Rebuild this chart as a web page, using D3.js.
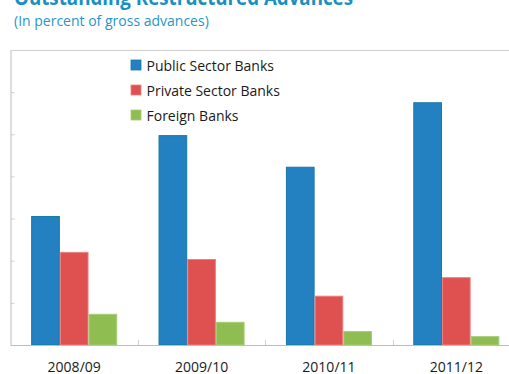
<!DOCTYPE html>
<html>
<head>
<meta charset="utf-8">
<script src="https://cdn.jsdelivr.net/npm/d3@7"></script>
<style>
  html, body { margin: 0; padding: 0; background: #fff; }
  svg { display: block; font-family: "Open Sans", "Noto Sans", sans-serif; }
</style>
</head>
<body>
<svg id="chart" width="509" height="374"></svg>
<script>
// Fiscal years on the category axis
const years = ["2008/09", "2009/10", "2010/11", "2011/12"];
// Bank groups (series)
const groups = ["Public Sector Banks", "Private Sector Banks", "Foreign Banks"];
// Restructured advances, percent of gross advances
const publicSector  = [3.06, 4.98, 4.23, 5.76];
const privateSector = [2.21, 2.04, 1.17, 1.61];
const foreignBanks  = [0.74, 0.55, 0.33, 0.21];
const yTicks = [0, 1, 2, 3, 4, 5, 6, 7];

const seriesValues = [publicSector, privateSector, foreignBanks];
const fills   = ["#2381c2", "#df5050", "#8fbd52"];
const strokes = ["#1778a8", "#ea8080", "#a6cc74"];

const svg = d3.select("#chart");

// Heading
svg.append("text")
  .attr("x", 14).attr("y", 5)
  .attr("fill", "#1a90c2")
  .attr("font-size", 21).attr("font-weight", 700)
  .attr("textLength", 339).attr("lengthAdjust", "spacingAndGlyphs")
  .text("Outstanding Restructured Advances");
svg.append("text")
  .attr("x", 14).attr("y", 26)
  .attr("fill", "#2796c8")
  .attr("font-size", 14)
  .text("(In percent of gross advances)");

// Plot area
const plotLeft = 10.5, plotRight = 520, plotTop = 50, plotBottom = 345;

const x0 = d3.scaleBand().domain(years).range([plotLeft, plotRight]).padding(0);
const x1 = d3.scaleBand().domain(groups).range([0, x0.bandwidth()])
  .paddingInner(0).paddingOuter(0.72);
const y = d3.scaleLinear().domain([0, 7]).range([plotBottom, plotTop]);

// Frame: top rule and left axis
svg.append("line")
  .attr("x1", plotLeft).attr("x2", plotRight).attr("y1", plotTop + 0.5).attr("y2", plotTop + 0.5)
  .attr("stroke", "#cfcfcf").attr("stroke-width", 1);

const yAxis = d3.axisRight(y).tickValues(yTicks).tickSize(4).tickFormat("");
const gy = svg.append("g").attr("transform", `translate(${plotLeft},0)`).call(yAxis);
gy.select(".domain").attr("stroke", "#bdbdbd");
gy.selectAll(".tick line").attr("stroke", "#cfcfcf");

// Bars
const rows = years.map((yr, i) => ({ year: yr, values: groups.map((g, s) => ({ group: g, s, v: seriesValues[s][i] })) }));

const gBars = svg.append("g");
rows.forEach(r => {
  gBars.selectAll(null)
    .data(r.values)
    .enter().append("rect")
    .attr("x", d => x0(r.year) + x1(d.group) + 0.5)
    .attr("y", d => y(d.v) + 0.5)
    .attr("width", x1.bandwidth() - 1)
    .attr("height", d => y(0) - y(d.v) - 0.5)
    .attr("fill", d => fills[d.s])
    .attr("stroke", d => strokes[d.s])
    .attr("stroke-width", 1);
});

// Category axis
const xAxis = d3.axisBottom(x0).tickSize(0).tickPadding(0);
const gx = svg.append("g").attr("transform", `translate(0,${plotBottom})`).call(xAxis);
gx.select(".domain").attr("stroke", "#bdbdbd").attr("stroke-width", 1.2);
gx.selectAll(".tick text")
  .attr("y", 26.5).attr("dy", 0)
  .attr("font-size", 14).attr("fill", "#1a1a1a")
  .attr("font-family", "\"Open Sans\", \"Noto Sans\", sans-serif");

// Boundary ticks between categories, pointing up into the plot
svg.append("g").selectAll("line")
  .data(years.slice(1))
  .enter().append("line")
  .attr("x1", d => Math.round(x0(d)) + 0.5).attr("x2", d => Math.round(x0(d)) + 0.5)
  .attr("y1", plotBottom).attr("y2", plotBottom - 5)
  .attr("stroke", "#cfcfcf");

// Legend
const legend = svg.append("g").attr("transform", "translate(131,60)");
groups.forEach((g, i) => {
  const row = legend.append("g").attr("transform", `translate(0,${i * 25})`);
  row.append("rect").attr("width", 10).attr("height", 10)
    .attr("fill", fills[i]).attr("stroke", strokes[i]).attr("stroke-width", 0.8);
  row.append("text").attr("x", 15.5).attr("y", 10.5)
    .attr("font-size", 14).attr("fill", "#1a1a1a").text(g);
});
</script>
</body>
</html>
